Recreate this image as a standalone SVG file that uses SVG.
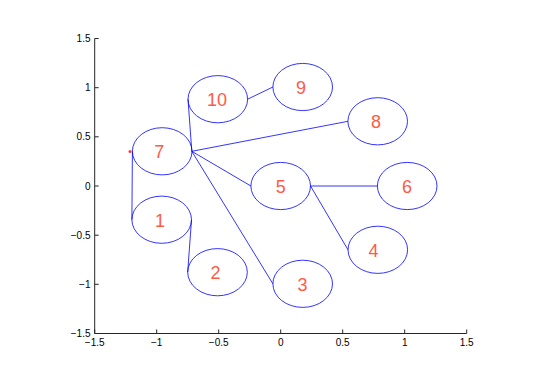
<svg xmlns="http://www.w3.org/2000/svg" width="545" height="385" viewBox="0 0 545 385">
<style>
.ax{stroke:#262626;stroke-width:1;fill:none}
.tl{font-family:"Liberation Sans",Arial,sans-serif;font-size:10px;fill:#000}
.node ellipse{fill:none;stroke:#0000ff;stroke-width:0.8}
.node text{font-family:"Liberation Sans",Arial,sans-serif;font-size:18px;fill:#ff5a46;text-anchor:middle}
#edges line{stroke:#0000ff;stroke-width:0.8}
</style>
<rect width="545" height="385" fill="#fff"/>
<g id="axes">
<path class="ax" d="M94.7,38.5V333.5H466.7"/>
<path class="ax" d="M94.7,38.5h4M94.7,87.7h4M94.7,136.8h4M94.7,186h4M94.7,235.2h4M94.7,284.3h4M94.7,333.5h4"/>
<path class="ax" d="M94.7,333.5v-4M156.7,333.5v-4M218.7,333.5v-4M280.7,333.5v-4M342.7,333.5v-4M404.7,333.5v-4M466.7,333.5v-4"/>
<g class="tl" text-anchor="end">
<text x="90.5" y="42">1.5</text>
<text x="90.5" y="91.2">1</text>
<text x="90.5" y="140.3">0.5</text>
<text x="90.5" y="189.5">0</text>
<text x="90.5" y="238.7">−0.5</text>
<text x="90.5" y="287.8">−1</text>
<text x="90.5" y="337">−1.5</text>
</g>
<g class="tl" text-anchor="middle">
<text x="94.7" y="346">−1.5</text>
<text x="156.7" y="346">−1</text>
<text x="218.7" y="346">−0.5</text>
<text x="280.7" y="346">0</text>
<text x="342.7" y="346">0.5</text>
<text x="404.7" y="346">1</text>
<text x="466.7" y="346">1.5</text>
</g>
</g>
<g id="edges">
<line x1="191.8" y1="151.3" x2="188" y2="99.2"/>
<line x1="191.8" y1="151.3" x2="348" y2="121.3"/>
<line x1="191.8" y1="151.3" x2="250.9" y2="186"/>
<line x1="191.8" y1="151.3" x2="272.9" y2="283.8"/>
<line x1="247.6" y1="99.2" x2="272.9" y2="87"/>
<line x1="310.5" y1="186" x2="377.4" y2="186"/>
<line x1="310.5" y1="186" x2="348" y2="249.8"/>
<line x1="132.4" y1="151.3" x2="131.9" y2="219.7"/>
<line x1="191.5" y1="219.7" x2="187.7" y2="272.2"/>
</g>
<circle cx="130" cy="151.6" r="1.5" fill="#ff3b2a"/>
<g id="n1" class="node"><ellipse cx="161.7" cy="219.7" rx="29.8" ry="23.6"/><text x="160" y="226.5">1</text></g>
<g id="n2" class="node"><ellipse cx="217.5" cy="272.2" rx="29.8" ry="23.6"/><text x="215.5" y="279">2</text></g>
<g id="n3" class="node"><ellipse cx="302.7" cy="283.8" rx="29.8" ry="23.6"/><text x="302.5" y="290.6">3</text></g>
<g id="n4" class="node"><ellipse cx="377.8" cy="249.8" rx="29.8" ry="23.6"/><text x="373.5" y="256.6">4</text></g>
<g id="n5" class="node"><ellipse cx="280.7" cy="186" rx="29.8" ry="23.6"/><text x="280.7" y="192.8">5</text></g>
<g id="n6" class="node"><ellipse cx="407.2" cy="186" rx="29.8" ry="23.6"/><text x="407" y="192.8">6</text></g>
<g id="n7" class="node"><ellipse cx="162.2" cy="151.3" rx="29.8" ry="23.6"/><text x="159.3" y="158.1">7</text></g>
<g id="n8" class="node"><ellipse cx="377.7" cy="121.3" rx="29.8" ry="23.6"/><text x="376" y="128.1">8</text></g>
<g id="n9" class="node"><ellipse cx="302.7" cy="87" rx="29.8" ry="23.6"/><text x="301" y="93.8">9</text></g>
<g id="n10" class="node"><ellipse cx="217.8" cy="99.2" rx="29.8" ry="23.6"/><text x="217" y="106">10</text></g>
</svg>
